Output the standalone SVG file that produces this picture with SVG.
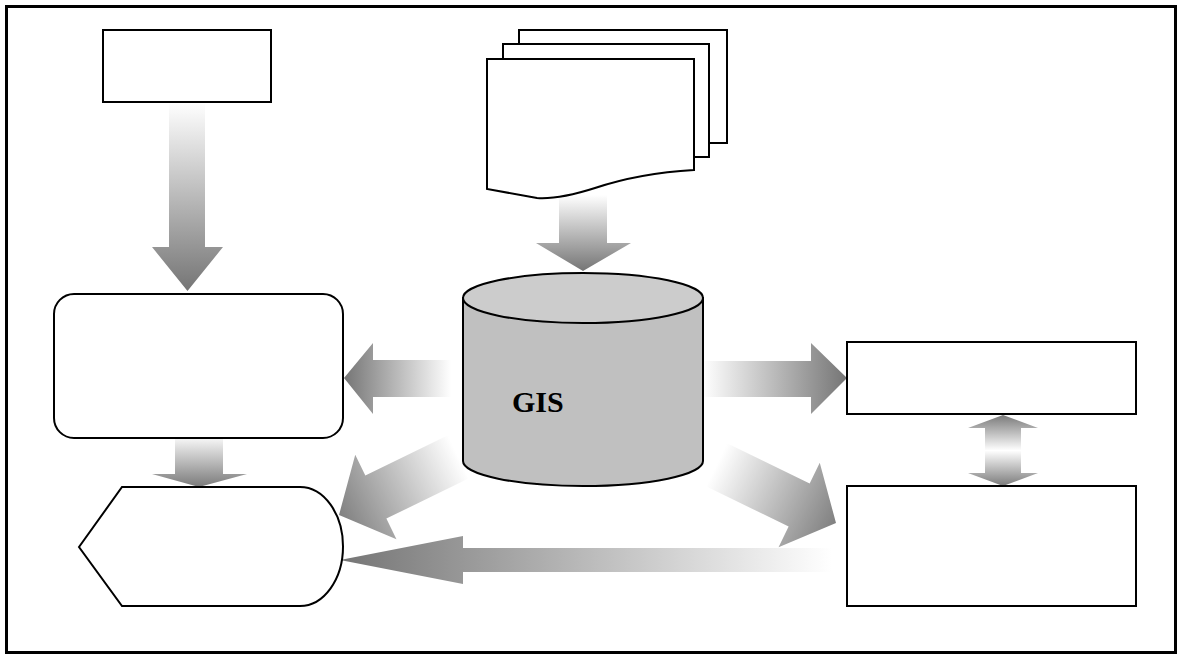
<svg xmlns="http://www.w3.org/2000/svg" width="1180" height="655" viewBox="0 0 1180 655">
  <style>
    .box { fill: #ffffff; stroke: #000000; stroke-width: 2; }
    .cyl { fill: #c0c0c0; stroke: #000000; stroke-width: 2; }
    .cyltop { fill: #cccccc; stroke: #000000; stroke-width: 2; }
    .label { font-family: "Liberation Serif", "Times New Roman", serif; font-weight: bold; font-size: 30px; fill: #000000; }
  </style>
  <defs>
    <linearGradient id="gDown" x1="0" y1="0" x2="0" y2="1">
      <stop offset="0" stop-color="#ffffff"/>
      <stop offset="1" stop-color="#757575"/>
    </linearGradient>
    <linearGradient id="gDownShort" x1="0" y1="0" x2="0" y2="1">
      <stop offset="0" stop-color="#f4f4f4"/>
      <stop offset="1" stop-color="#7a7a7a"/>
    </linearGradient>
    <linearGradient id="gLeft" x1="1" y1="0" x2="0" y2="0">
      <stop offset="0.15" stop-color="#ffffff"/>
      <stop offset="1" stop-color="#757575"/>
    </linearGradient>
    <linearGradient id="gRight" x1="0" y1="0" x2="1" y2="0">
      <stop offset="0.08" stop-color="#ffffff"/>
      <stop offset="1" stop-color="#757575"/>
    </linearGradient>
    <linearGradient id="gBottom" x1="1" y1="0" x2="0" y2="0">
      <stop offset="0" stop-color="#ffffff"/>
      <stop offset="1" stop-color="#757575"/>
    </linearGradient>
    <linearGradient id="gDouble" x1="0" y1="0" x2="0" y2="1">
      <stop offset="0" stop-color="#7a7a7a"/>
      <stop offset="0.5" stop-color="#ffffff"/>
      <stop offset="1" stop-color="#7a7a7a"/>
    </linearGradient>
    <linearGradient id="gDiag" x1="0" y1="0" x2="1" y2="0">
      <stop offset="0.3" stop-color="#ffffff"/>
      <stop offset="1" stop-color="#808080"/>
    </linearGradient>
  </defs>

  <rect x="6.5" y="6.5" width="1169" height="646" fill="#ffffff" stroke="#000000" stroke-width="3"/>

  <g id="connectors">
    <!-- top-left box down to rounded rect -->
    <path d="M169,102 H205 V247 H223 L187.5,291 L152,247 H169 Z" fill="url(#gDown)"/>
    <!-- documents down to GIS -->
    <path d="M559,195 H607 V243 H631 L583,271 L536,243 H559 Z" fill="url(#gDown)"/>
    <!-- GIS left to rounded rect -->
    <path d="M470,360 V397 H373 V414 L344,378 L373,343 V360 Z" fill="url(#gLeft)"/>
    <!-- GIS right to box -->
    <path d="M690,361 H811 V343 L847,378 L811,414 V397 H690 Z" fill="url(#gRight)"/>
    <!-- rounded rect down to display shape -->
    <path d="M175,439 H223 V474 H247 L199,487 L152,474 H175 Z" fill="url(#gDownShort)"/>
    <!-- double arrow between right boxes -->
    <path d="M1003,415 L1038,428 H1021 V473 H1038 L1003,486 L968,473 H985 V428 H968 Z" fill="url(#gDouble)"/>
    <!-- diagonal GIS to display shape -->
    <path d="M0,0 L-41,-47 L-41,-24 L-190,-24 L-190,24 L-41,24 L-41,47 Z" fill="url(#gDiag)" transform="translate(339,515) rotate(154)"/>
    <!-- diagonal GIS to bottom-right box -->
    <path d="M0,0 L-41,-47 L-41,-24 L-190,-24 L-190,24 L-41,24 L-41,47 Z" fill="url(#gDiag)" transform="translate(836,523) rotate(26)"/>
    <!-- bottom-right box to display shape -->
    <path d="M832,548 V572 H463 V584 L340,560 L463,536 V548 Z" fill="url(#gBottom)"/>
  </g>

  <g id="node-top-left">
    <rect class="box" x="103" y="30" width="168" height="72"/>
  </g>

  <g id="node-documents">
    <rect class="box" x="519" y="30" width="208" height="113"/>
    <rect class="box" x="503" y="44" width="206" height="113"/>
    <path class="box" d="M487,59 H694 V170 C660,172 625,178 595,188 C570,196 552,199 537,198 L487,189 Z"/>
  </g>

  <g id="node-gis">
    <path class="cyl" d="M463,298 V461 A120,25 0 0 0 703,461 V298 Z"/>
    <ellipse class="cyltop" cx="583" cy="298" rx="120" ry="25"/>
    <text class="label" x="512" y="412">GIS</text>
  </g>

  <g id="node-left-rounded">
    <rect class="box" x="54" y="294" width="289" height="144" rx="20" ry="20"/>
  </g>

  <g id="node-display">
    <path class="box" d="M79,547 L122,487 H300 A43,59.5 0 0 1 300,606 H122 Z"/>
  </g>

  <g id="node-right-top">
    <rect class="box" x="847" y="342" width="289" height="72"/>
  </g>

  <g id="node-right-bottom">
    <rect class="box" x="847" y="486" width="289" height="120"/>
  </g>
</svg>
